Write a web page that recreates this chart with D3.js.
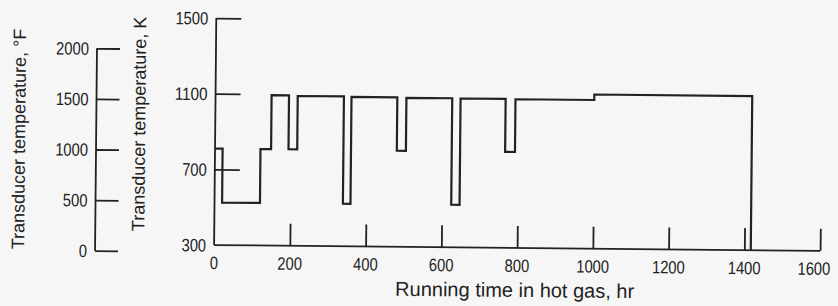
<!DOCTYPE html>
<html>
<head>
<meta charset="utf-8">
<script src="https://cdn.jsdelivr.net/npm/d3@7"></script>
<style>
  html, body { margin: 0; padding: 0; background: #f6f6f6; }
  svg { display: block; }
  .tick-label { font-family: "Liberation Sans", Arial, sans-serif; font-size: 18px; fill: #222; }
  .title { font-family: "Liberation Sans", Arial, sans-serif; fill: #222; }
</style>
</head>
<body>
<script>
// ---- Data ----
const stepHours  = [0, 20, 120, 148, 194, 217, 339, 359, 480, 504, 625, 647, 766, 792, 1000, 1417];
const stepTempsK = [810, 525, 810, 1095, 810, 1092, 525, 1090, 808, 1088, 525, 1087, 807, 1086, 1115, 300];
const xTicks = [200, 400, 600, 800, 1000, 1200, 1400, 1600];
const xTickLabels = ["0", "200", "400", "600", "800", "1000", "1200", "1400", "1600"];
const xLabelValues = [0, 200, 400, 600, 800, 1000, 1200, 1400, 1600];
const kTicks = [300, 700, 1100, 1500];
const fTicks = [0, 500, 1000, 1500, 2000];
const xTitle = "Running time in hot gas, hr";
const kTitle = "Transducer temperature, K";
const fTitle = "Transducer temperature, \u00B0F";

const W = 838, H = 306;
const ink = "#222";
const digitW = 8.2; // narrow digits as in the reference

const svg = d3.select("body").append("svg").attr("width", W).attr("height", H);
svg.append("rect").attr("width", W).attr("height", H).attr("fill", "#f6f6f6");

// slight scan skew
const g = svg.append("g").attr("transform", "rotate(0.55, 419, 153)");

const x = d3.scaleLinear().domain([0, 1600]).range([215, 821]);
const y = d3.scaleLinear().domain([300, 1500]).range([247, 20]);
const yF = d3.scaleLinear().domain([0, 2000]).range([253.8, 51.4]);

function narrow(sel) {
  sel.attr("textLength", function() { return this.textContent.length * digitW; })
     .attr("lengthAdjust", "spacingAndGlyphs");
}

// ---- Main x axis (ticks pointing up, inside) ----
const xAxis = d3.axisTop(x).tickValues(xTicks).tickSize(22).tickFormat("");
const gx = g.append("g").attr("transform", `translate(0,${y(300)})`).call(xAxis);
gx.select(".domain").attr("d", `M${x(0)},0H${x(1600)}`);
gx.selectAll("path, line").attr("stroke", ink).attr("stroke-width", 1.8);

g.append("g").selectAll("text").data(xLabelValues).join("text")
  .attr("class", "tick-label")
  .attr("x", d => x(d) - (d === 1600 ? 6 : 0)).attr("y", 271)
  .attr("text-anchor", "middle")
  .text((d, i) => xTickLabels[i])
  .call(narrow);

// ---- Main y axis (K), ticks pointing right ----
const yAxis = d3.axisLeft(y).tickValues(kTicks.filter(d => d !== 300)).tickSize(-25).tickFormat("");
const gy = g.append("g").attr("transform", `translate(${x(0)},0)`).call(yAxis);
gy.select(".domain").attr("d", `M0,${y(1500)}V${y(300)}`);
gy.selectAll("path, line").attr("stroke", ink).attr("stroke-width", 1.8);

g.append("g").selectAll("text").data(kTicks).join("text")
  .attr("class", "tick-label")
  .attr("x", 207).attr("y", d => y(d) + 6.5)
  .attr("text-anchor", "end")
  .text(d => d)
  .call(narrow);

// ---- °F axis ----
const fx = 96;
const fAxis = d3.axisLeft(yF).tickValues(fTicks).tickSize(-23).tickFormat("");
const gf = g.append("g").attr("transform", `translate(${fx},0)`).call(fAxis);
gf.select(".domain").attr("d", `M0,${yF(2000)}V${yF(0)}`);
gf.selectAll("path, line").attr("stroke", ink).attr("stroke-width", 1.8);

g.append("g").selectAll("text").data(fTicks).join("text")
  .attr("class", "tick-label")
  .attr("x", 88).attr("y", d => yF(d) + 6.5)
  .attr("text-anchor", "end")
  .text(d => d)
  .call(narrow);

// ---- Titles ----
g.append("text").attr("class", "title")
  .attr("x", 516).attr("y", 296)
  .attr("text-anchor", "middle").style("font-size", "20px")
  .text(xTitle);

g.append("text").attr("class", "title")
  .attr("transform", "translate(145,126.6) rotate(-90)")
  .attr("text-anchor", "middle").style("font-size", "18px")
  .text(kTitle);

g.append("text").attr("class", "title")
  .attr("transform", "translate(25,142.8) rotate(-90)")
  .attr("text-anchor", "middle").style("font-size", "18px")
  .text(fTitle);

// ---- Data step line ----
const pts = stepHours.map((h, i) => [h, stepTempsK[i]]);
const line = d3.line().x(d => x(d[0])).y(d => y(d[1])).curve(d3.curveStepAfter);
g.append("path").datum(pts)
  .attr("d", line)
  .attr("fill", "none")
  .attr("stroke", ink)
  .attr("stroke-width", 2.2)
  .attr("stroke-linejoin", "miter");
</script>
</body>
</html>
